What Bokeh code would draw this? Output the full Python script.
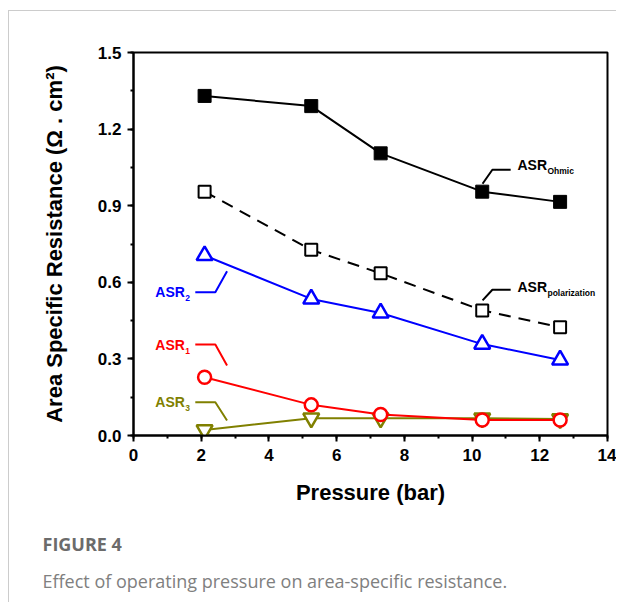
from bokeh.plotting import figure
from bokeh.models import Title, SingleIntervalTicker, NumeralTickFormatter
from bokeh.core.properties import value
from bokeh.embed import file_html
from bokeh.resources import INLINE

# ---- data ----
pressure = [2.1, 5.25, 7.3, 10.3, 12.6]
asr_ohmic = [1.33, 1.29, 1.105, 0.955, 0.915]
asr_polarization = [0.955, 0.727, 0.635, 0.49, 0.424]
asr2 = [0.705, 0.535, 0.48, 0.358, 0.296]
asr1 = [0.228, 0.12, 0.082, 0.061, 0.061]
asr3 = [0.022, 0.068, 0.068, 0.068, 0.065]

x_label = "Pressure (bar)"
y_label = "Area Specific Resistance (\u03a9 . cm\u00b2)"
caption_title = "FIGURE 4"
caption_text = "Effect of operating pressure on area-specific resistance."

BLUE = "#0000ff"
RED = "#ff0000"
OLIVE = "#808000"
FONT = "Liberation Sans"

p = figure(width=608, height=592, x_range=(0, 14), y_range=(0, 1.5),
           output_backend="svg", toolbar_location=None,
           min_border_left=124, min_border_right=10, min_border_top=41, min_border_bottom=168)
p.margin = (10, 0, 0, 8)
p.styles = {"border-left": "1px solid #cccccc", "border-top": "1px solid #cccccc"}

p.xgrid.visible = False
p.ygrid.visible = False
p.outline_line_color = "black"
p.outline_line_width = 2
p.outline_line_alpha = 1

p.xaxis.ticker = SingleIntervalTicker(interval=2, num_minor_ticks=2)
p.yaxis.ticker = SingleIntervalTicker(interval=0.3, num_minor_ticks=2)
p.yaxis.formatter = NumeralTickFormatter(format="0.0")
for ax in (p.xaxis, p.yaxis):
    ax.axis_line_width = 2
    ax.major_tick_line_width = 2
    ax.minor_tick_line_width = 2
    ax.major_tick_out = 6
    ax.major_tick_in = 0
    ax.minor_tick_out = 3
    ax.minor_tick_in = 0
    ax.major_label_text_font = FONT
    ax.major_label_text_font_style = "bold"
    ax.major_label_text_font_size = "17px"
    ax.major_label_text_color = "black"
    ax.axis_label_text_font = FONT
    ax.axis_label_text_font_style = "bold"
    ax.axis_label_text_font_size = "22px"
    ax.axis_label_text_color = "black"
p.xaxis.axis_label = x_label
p.yaxis.axis_label = y_label
p.xaxis.major_label_standoff = 7
p.xaxis.axis_label_standoff = 16
p.yaxis.major_label_standoff = 6
p.yaxis.axis_label_standoff = 28

# ---- series ----
p.line(pressure, asr_ohmic, line_color="black", line_width=2)
p.scatter(pressure, asr_ohmic, marker="square", size=13, fill_color="black", line_color="black")

p.line(pressure, asr_polarization, line_color="black", line_width=2, line_dash="12 8")
p.scatter(pressure, asr_polarization, marker="square", size=12, fill_color="white",
          line_color="black", line_width=2)

p.line(pressure, asr2, line_color=BLUE, line_width=2)
p.scatter(pressure, asr2, marker="triangle", size=16, fill_color="white",
          line_color=BLUE, line_width=2.5)

p.line(pressure, asr3, line_color=OLIVE, line_width=2)
p.scatter(pressure, asr3, marker="inverted_triangle", size=16, fill_color="white",
          line_color=OLIVE, line_width=2.5)

p.line(pressure, asr1, line_color=RED, line_width=2)
p.scatter(pressure, asr1, marker="circle", size=13, fill_color="white",
          line_color=RED, line_width=2.5)

# ---- annotations (leader lines + labels) ----
def annot(xs, ys, tx, ty, main, sub, color, sub_dx):
    p.line(xs, ys, line_color=color, line_width=2)
    p.text([tx], [ty], text=[main], text_color=color, text_font=value(FONT),
           text_font_style="bold", text_font_size="14px",
           text_align="left", text_baseline="middle")
    p.text([tx], [ty], text=[sub], text_color=color, text_font=value(FONT),
           text_font_style="bold", text_font_size="8.5px",
           text_align="left", text_baseline="middle", x_offset=sub_dx, y_offset=6)

annot([10.31, 10.6, 11.14], [0.986, 1.041, 1.041], 11.34, 1.058, "ASR", "Ohmic", "black", 30)
annot([10.31, 10.6, 11.14], [0.529, 0.571, 0.571], 11.34, 0.581, "ASR", "polarization", "black", 30)
annot([1.825, 2.417, 2.763], [0.561, 0.561, 0.643], 0.645, 0.561, "ASR", "2", BLUE, 30)
annot([1.825, 2.417, 2.763], [0.356, 0.356, 0.274], 0.645, 0.356, "ASR", "1", RED, 30)
annot([1.825, 2.417, 2.763], [0.130, 0.130, 0.059], 0.645, 0.130, "ASR", "3", OLIVE, 30)

# ---- caption ----
t1 = Title(text=caption_title, align="left", offset=-91, standoff=45,
           text_font="Open Sans", text_font_size="18px", text_font_style="bold",
           text_color="#6b6b6b")
t2 = Title(text=caption_text, align="left", offset=-91, standoff=-28,
           text_font="Open Sans", text_font_size="18px", text_font_style="normal",
           text_color="#808080")
p.add_layout(t1, "below")
p.add_layout(t2, "below")

open("out.html", "w").write(file_html(p, INLINE))
